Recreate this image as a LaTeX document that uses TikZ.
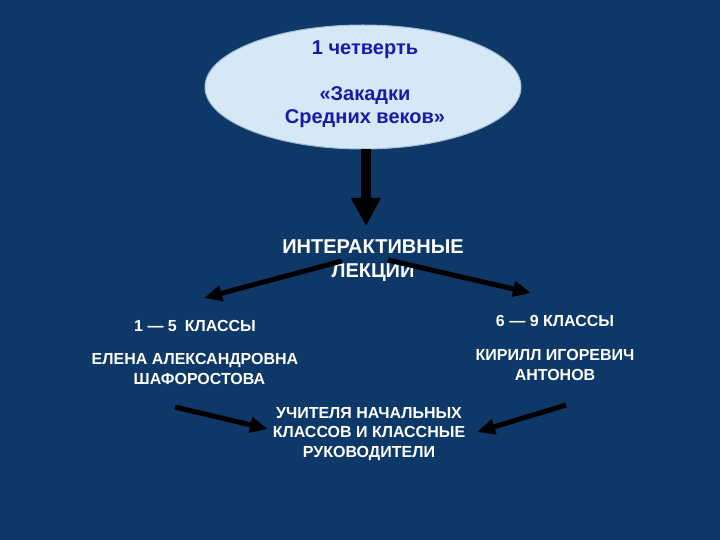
\documentclass[tikz,border=0pt]{standalone}
\usepackage{fontspec}
\setmainfont{Liberation Sans}
\usetikzlibrary{arrows.meta,shapes.geometric}
\definecolor{bg}{RGB}{14,56,104}
\definecolor{ellfill}{RGB}{214,232,245}
\definecolor{elldraw}{RGB}{160,188,214}
\definecolor{dblue}{RGB}{26,26,170}
\tikzset{
  wtext/.style={text=white,font=\fontsize{16}{19.5}\selectfont\bfseries,align=center,inner sep=0pt},
  bigtext/.style={text=white,font=\fontsize{20}{24}\selectfont\bfseries,align=center,inner sep=0pt},
  arr/.style={draw=black,line width=5pt,-{Triangle[length=18pt,width=15pt]}},
  bigarr/.style={draw=black,line width=10pt,-{Triangle[length=28pt,width=28pt]}}
}
\begin{document}
\begin{tikzpicture}[x=1pt,y=-1pt]
\fill[bg] (0,0) rectangle (720,540);
\useasboundingbox (0,0) rectangle (720,540);
\node[ellipse,fill=ellfill,draw=elldraw,line width=1pt,minimum width=316pt,minimum height=124pt,inner sep=0pt] (ell) at (363,87) {};
\node[text=dblue,font=\fontsize{20}{24}\selectfont\bfseries,inner sep=0pt] (q) at (365,50) {1 четверть};
\node[text=dblue,font=\fontsize{20}{23}\selectfont\bfseries,align=center,inner sep=0pt] (zak) at (365,107) {«Закадки\\Средних веков»};
\coordinate (bigend) at (366,226);
\draw[bigarr] (ell.south -| bigend) -- (bigend);
\node[bigtext] (lect) at (373,261) {ИНТЕРАКТИВНЫЕ\\ЛЕКЦИИ};
\node[wtext] (c15) at (195,326) {1 — 5\enspace КЛАССЫ};
\node[wtext] (c69) at (555,321) {6 — 9 КЛАССЫ};
\node[wtext] (elena) at (195,369) {ЕЛЕНА АЛЕКСАНДРОВНА\\\ \ ШАФОРОСТОВА};
\node[wtext] (kir) at (555,365) {КИРИЛЛ ИГОРЕВИЧ\\АНТОНОВ};
\node[wtext] (teach) at (369,434) {УЧИТЕЛЯ НАЧАЛЬНЫХ\\КЛАССОВ И КЛАССНЫЕ\\РУКОВОДИТЕЛИ};
\coordinate (l1s) at (342,261);
\coordinate (l1e) at (204,298);
\coordinate (r1s) at (388,260);
\coordinate (r1e) at (531,293);
\coordinate (l2s) at (175,407);
\coordinate (l2e) at (268,429);
\coordinate (r2s) at (566,405);
\coordinate (r2e) at (477,432);
\draw[arr] (l1s) -- (l1e);
\draw[arr] (r1s) -- (r1e);
\draw[arr] (l2s) -- (l2e);
\draw[arr] (r2s) -- (r2e);
\end{tikzpicture}
\end{document}
